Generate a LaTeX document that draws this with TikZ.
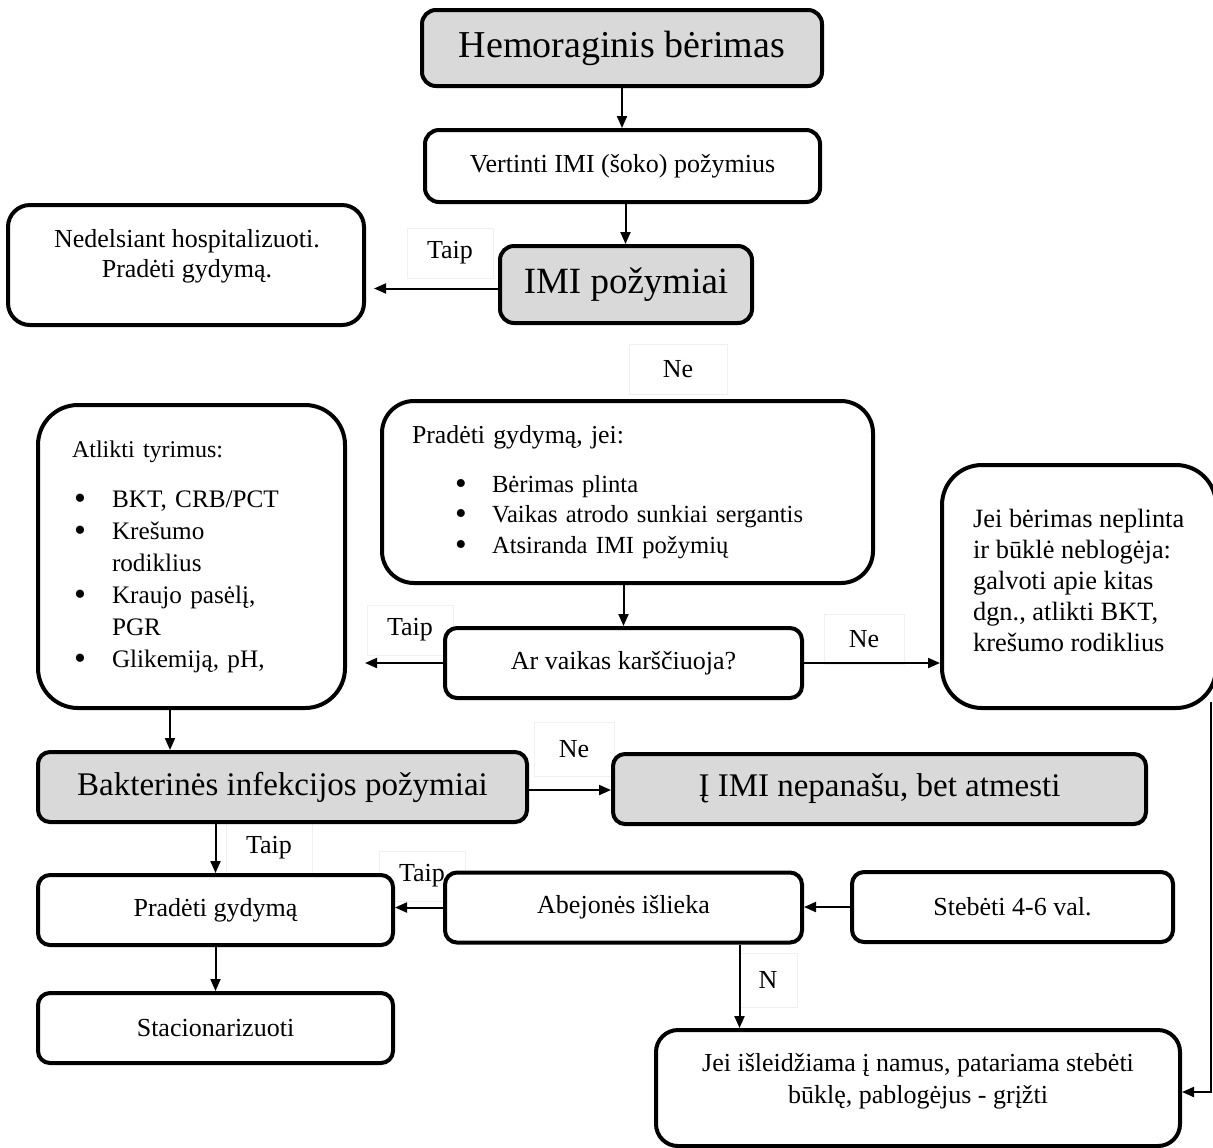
\documentclass[tikz,border=0pt]{standalone}
\usepackage{fontspec}
\setmainfont{Liberation Serif}
\usepackage{tikz}
\usetikzlibrary{arrows.meta,calc}
\definecolor{boxgray}{HTML}{D9D9D9}
\definecolor{lblline}{HTML}{F0F0F0}
\tikzset{
  stepBox/.style={draw=black, line width=2pt, fill=white, rounded corners=6pt, inner sep=0pt, align=center, font=\fontsize{13}{15.5}\selectfont},
  grayBox/.style={stepBox, fill=boxgray},
  lblBox/.style={draw=lblline, line width=0.5pt, fill=white, inner sep=0pt, minimum width=43pt, minimum height=25pt, font=\fontsize{13}{15}\selectfont},
  arr/.style={draw=black, line width=1pt, -{Triangle[length=6pt,width=5pt]}},
}
\newcommand{\itm}[2]{\hspace*{#1}\makebox[#2][l]{\raisebox{-1.2pt}{\scalebox{1.35}{\textbullet}}}}

\begin{document}
\begin{tikzpicture}[x=0.5pt,y=-0.5pt]
  \useasboundingbox (0,0) rectangle (1213,1147);
  \clip (0,0) rectangle (1213,1147);

  % answer labels
  \node[lblBox] (taipA) at (450,253) {Taip};
  \node[lblBox, minimum width=49pt] (neA) at (678,369) {Ne};
  \node[lblBox] (taipB) at (410,630) {Taip};
  \node[lblBox, minimum width=40pt] (neB) at (864,639) {Ne};
  \node[lblBox, minimum width=40pt, minimum height=27pt] (neC) at (574,749) {Ne};
  \node[lblBox] (taipC) at (269,848) {Taip};
  \node[lblBox] (taipD) at (422,876) {Taip};
  \node[lblBox, minimum width=29pt, minimum height=27pt] (nD) at (768,980) {N};

  % boxes
  \node[grayBox, rounded corners=7pt, minimum width=200pt, minimum height=38pt, font=\fontsize{19}{22}\selectfont] (hem) at (622,48) {Hemoraginis bėrimas};
  \node[stepBox, rounded corners=7pt, minimum width=197.5pt, minimum height=36pt] (vert) at (622.5,166) {Vertinti IMI (šoko) požymius};
  \node[grayBox, rounded corners=7pt, minimum width=126pt, minimum height=38.5pt, font=\fontsize{18.5}{22}\selectfont] (imi) at (626,284.5) {IMI požymiai};
  \node[stepBox, rounded corners=11pt, minimum width=178pt, minimum height=60pt] (ned) at (186,265) {};
  \node[font=\fontsize{13}{15}\selectfont, align=center] (nedtxt) at (187,256) {Nedelsiant hospitalizuoti.\\Pradėti gydymą.};

  \node[stepBox, rounded corners=16pt, minimum width=245.5pt, minimum height=91pt, inner xsep=15pt, text width=215.5pt, align=left, font=\fontsize{12.3}{15.25}\selectfont] (pradj) at (627.5,492) {%
    {\fontsize{12.9}{15.25}\selectfont Pradėti gydymą, jei:}\\[9pt]
    \itm{21.5pt}{18.5pt}Bėrimas plinta\\
    \itm{21.5pt}{18.5pt}Vaikas atrodo sunkiai sergantis\\
    \itm{21.5pt}{18.5pt}Atsiranda IMI požymių};

  \node[stepBox, rounded corners=20pt, minimum width=153.5pt, minimum height=151.5pt, inner xsep=14pt, text width=123.5pt, align=left, font=\fontsize{12.6}{16}\selectfont] (atl) at (191.5,556.5) {%
    {\fontsize{12}{16}\selectfont\hspace*{2pt}Atlikti tyrimus:}\\[9pt]
    \itm{3pt}{19pt}BKT, CRB/PCT\\
    \itm{3pt}{19pt}Krešumo\\
    \hspace*{22pt}rodiklius\\
    \itm{3pt}{19pt}Kraujo pasėlį,\\
    \hspace*{22pt}PGR\\
    \itm{3pt}{19pt}Glikemiją, pH,};

  \node[stepBox, minimum width=178.5pt, minimum height=35pt] (ar) at (623.5,663) {Ar vaikas karščiuoja?};

  \node[stepBox, rounded corners=20pt, minimum width=137pt, minimum height=121.5pt] (jbr) at (1079,586.5) {};
  \node[font=\fontsize{13.2}{15.5}\selectfont, align=left, anchor=west] (jbrtxt) at (966,580) {%
    Jei bėrimas neplinta\\
    ir būklė neblogėja:\\
    galvoti apie kitas\\
    dgn., atlikti BKT,\\
    krešumo rodiklius};

  \node[grayBox, minimum width=244.5pt, minimum height=35pt, font=\fontsize{16.5}{20}\selectfont] (bak) at (282.5,787) {Bakterinės infekcijos požymiai};
  \node[grayBox, minimum width=266.5pt, minimum height=35pt, font=\fontsize{16.5}{20}\selectfont] (iim) at (879.5,789) {Į IMI nepanašu, bet atmesti};

  \node[stepBox, minimum width=177.5pt, minimum height=35pt] (prg) at (215.5,910) {Pradėti gydymą};
  \node[stepBox, minimum width=178.5pt, minimum height=35pt] (abe) at (623.5,907.5) {Abejonės išlieka};
  \node[stepBox, minimum width=160.5pt, minimum height=35pt] (steb) at (1012.5,907) {Stebėti 4-6 val.};
  \node[stepBox, minimum width=177.5pt, minimum height=35pt] (stac) at (215.5,1028) {Stacionarizuoti};
  \node[stepBox, rounded corners=11pt, minimum width=262pt, minimum height=58pt] (jin) at (918,1088) {};
  \node[font=\fontsize{13}{16}\selectfont, align=center] (jintxt) at (918,1081) {Jei išleidžiama į namus, patariama stebėti\\būklę, pablogėjus - grįžti};

  % connectors
  \draw[arr] (hem.south) -- (hem.south |- vert.north);
  \draw[arr] ([xshift=1.5pt]vert.south) -- ([xshift=1.5pt]vert.south |- imi.north);
  \draw[arr, shorten >=4pt] ([yshift=-2pt]imi.west) -- ([yshift=-2pt]imi.west -| ned.east);
  \draw[arr] (pradj.south -| ar.north) -- (ar.north);
  \draw[arr, shorten >=9pt] (ar.west) -- (ar.west -| atl.east);
  \draw[arr] (ar.east) -- (ar.east -| jbr.west);
  \draw[arr] ([xshift=-10.75pt]atl.south) -- ([xshift=-10.75pt]atl.south |- bak.north);
  \draw[arr] ([yshift=-1.5pt]bak.east) -- ([yshift=-1.5pt]bak.east -| iim.west);
  \draw[arr] (prg.north |- bak.south) -- (prg.north);
  \draw[arr] (abe.west) -- (abe.west -| prg.east);
  \draw[arr] (steb.west) -- (steb.west -| abe.east);
  \draw[arr] (prg.south) -- (stac.north);
  \draw[arr] ([xshift=58pt]abe.south) -- ([xshift=58pt]abe.south |- jin.north);
  \coordinate (rt) at (1211,702);
  \draw[arr] (rt) |- ([yshift=-2pt]jin.east);
\end{tikzpicture}
\end{document}
